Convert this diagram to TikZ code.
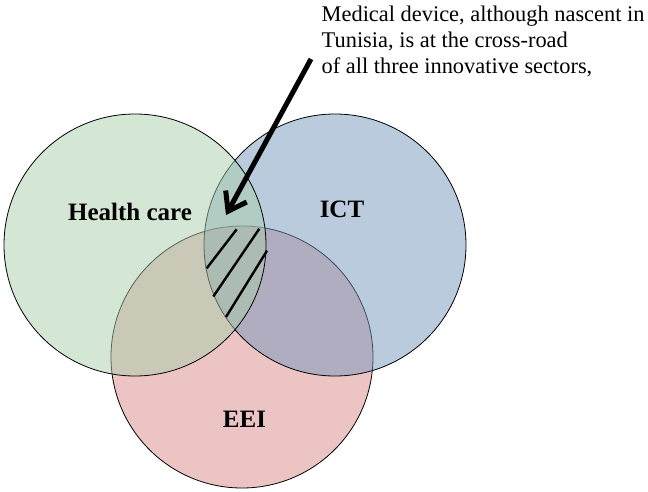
\documentclass[tikz,border=0pt]{standalone}
\usepackage{fontspec}
\setmainfont{Liberation Serif}
\usetikzlibrary{arrows.meta}
\definecolor{hcgreen}{RGB}{169,205,169}
\definecolor{ictblue}{RGB}{117,151,189}
\definecolor{eeired}{RGB}{217,137,137}
\tikzset{
  setcircle/.style={circle, draw=black, line width=0.8pt, fill opacity=0.5, inner sep=0pt, minimum size=262pt},
  setlabel/.style={anchor=base, font=\fontsize{25}{30}\selectfont\bfseries, inner sep=0pt},
  annline/.style={anchor=base west, font=\fontsize{22.4}{26}\selectfont, inner sep=0pt},
  hatchline/.style={line width=2.4pt, black},
  bigarrow/.style={line width=5pt, -{Straight Barb[length=17pt, width=24pt]}}
}
\begin{document}
\begin{tikzpicture}[x=1pt, y=-1pt]
\useasboundingbox (0,0) rectangle (648,492);
\node[setcircle, fill=eeired] (eei) at (242,357) {};
\node[setcircle, fill=ictblue] (ict) at (335,245) {};
\node[setcircle, fill=hcgreen] (hc) at (135,245) {};
\draw[hatchline] (206.7,268.3) -- (236.7,229.3);
\draw[hatchline] (213.3,296.5) -- (259.3,228.8);
\draw[hatchline] (226,317) -- (267,250.7);
\node[setlabel] (hclabel) at (130,220) {Health care};
\node[setlabel] (ictlabel) at (342,217) {ICT};
\node[setlabel] (eeilabel) at (244.5,427) {EEI};
\node[annline] (ann1) at (321.5,21.7) {Medical device, although nascent in};
\node[annline] (ann2) at (321.5,48) {Tunisia, is at the cross-road};
\node[annline] (ann3) at (321.5,74) {of all three innovative sectors,};
\coordinate (arrowstart) at (311,59);
\coordinate (arrowtip) at (226,215);
\draw[bigarrow] (arrowstart) -- (arrowtip);
\end{tikzpicture}
\end{document}
